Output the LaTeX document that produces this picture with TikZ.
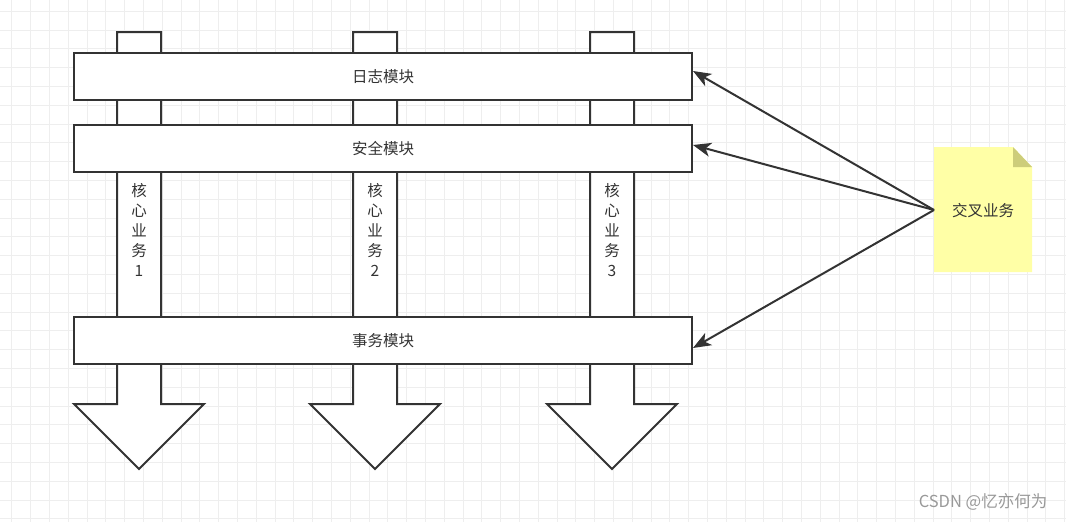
\documentclass[tikz,border=0pt]{standalone}
\usepackage{fontspec}
\setmainfont{Noto Sans CJK SC}
\usetikzlibrary{arrows.meta,positioning}
\definecolor{ink}{HTML}{333333}
\definecolor{gridc}{HTML}{EEEEEE}
\definecolor{notefill}{HTML}{FFFFA6}
\definecolor{notefold}{HTML}{CDCD7A}

\begin{document}
\begin{tikzpicture}[x=1pt, y=-1pt,
  every node/.style={font=\fontsize{15.5}{20}\selectfont, text=ink},
  bar/.style={draw=ink, line width=2pt, fill=white, minimum width=618pt, minimum height=47pt, inner sep=0pt},
  pillar/.style={draw=ink, line width=2pt, fill=white, line join=miter},
  link/.style={draw=ink, line width=2pt, arrows={-Stealth[length=18pt 0 0, width=14pt 0 0, inset=5pt 0 0]}},
  gridline/.style={gridc, line width=0.9pt}]
\useasboundingbox[fill=white] (0,0) rectangle (1066,522);
% background grid
\foreach \i in {0,...,57} \draw[gridline] ({-7+18.8*\i},0) -- ++(0,522);
\foreach \j in {0,...,28} \draw[gridline] (0,{-7.6+18.8*\j}) -- ++(1066,0);
% pillars with arrow heads
\foreach \cx/\n in {139/1, 375/2, 612/3} {
  \draw[pillar] ({\cx-22},32) -- ({\cx+22},32) -- ({\cx+22},404) -- ({\cx+65},404)
    -- (\cx,469) -- ({\cx-65},404) -- ({\cx-22},404) -- cycle;
  \node[align=center] (core\n) at (\cx,230) {核\\心\\业\\务\\\n};
}
% module bars
\node[bar] (log)   at (383,76.5)  {日志模块};
\node[bar] (safe)  at (383,148.5) {安全模块};
\node[bar] (trans) at (383,340.5) {事务模块};
% cross-cutting note
\fill[notefill] (934,147) -- (1013,147) -- (1032,167) -- (1032,272) -- (934,272) -- cycle;
\fill[notefold] (1013,147) -- (1032,167) -- (1013,167) -- cycle;
\node (cross) at (983,211) {交叉业务};
\coordinate (src) at (934,210);
\draw[link] (src) -- ([yshift=5.5pt]log.east);
\draw[link] (src) -- ([yshift=3.5pt]safe.east);
\draw[link] (src) -- ([yshift=-7.5pt]trans.east);
% watermark
\node[text=gray!80, font=\fontsize{16.5}{18}\selectfont] (mark) at (983,502) {CSDN @忆亦何为};
\end{tikzpicture}
\end{document}
